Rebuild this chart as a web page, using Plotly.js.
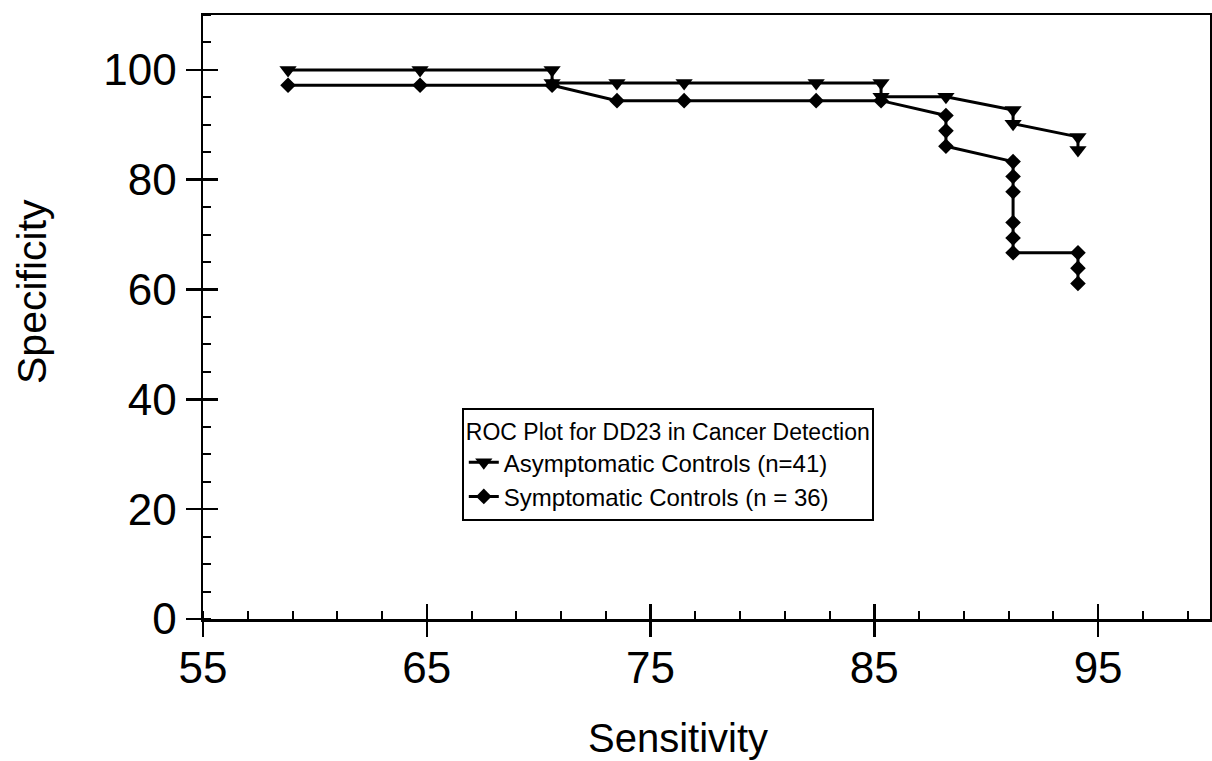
<!DOCTYPE html>
<html>
<head>
<meta charset="utf-8">
<script src="https://cdn.plot.ly/plotly-3.0.1.min.js"></script>
<style>html,body{margin:0;padding:0;background:#fff;}#chart{width:1212px;height:761px;}</style>
</head>
<body>
<div id="chart"></div>
<script>
// Data
const asymSens = [58.8, 64.7, 70.6, 70.6, 73.5, 76.5, 82.4, 85.3, 85.3, 88.2, 91.2, 91.2, 94.1, 94.1];
const asymSpec = [100, 100, 100, 97.6, 97.6, 97.6, 97.6, 97.6, 95.1, 95.1, 92.7, 90.2, 87.8, 85.4];
const symSens = [58.8, 64.7, 70.6, 73.5, 76.5, 82.4, 85.3, 88.2, 88.2, 88.2, 91.2, 91.2, 91.2, 91.2, 91.2, 91.2, 94.1, 94.1, 94.1];
const symSpec = [97.2, 97.2, 97.2, 94.4, 94.4, 94.4, 94.4, 91.7, 88.9, 86.1, 83.3, 80.6, 77.8, 72.2, 69.4, 66.7, 66.7, 63.9, 61.1];
const seriesNames = ["Asymptomatic Controls (n=41)", "Symptomatic Controls (n = 36)"];
const legendTitle = "ROC Plot for DD23 in Cancer Detection";
const xTitle = "Sensitivity";
const yTitle = "Specificity";

const FONT = "Liberation Sans, Arial, sans-serif";

const traces = [
  {
    x: asymSens, y: asymSpec, name: seriesNames[0], type: "scatter", mode: "lines+markers",
    line: {color: "#000", width: 3},
    marker: {symbol: "triangle-down", size: 15, color: "#000"}
  },
  {
    x: symSens, y: symSpec, name: seriesNames[1], type: "scatter", mode: "lines+markers",
    line: {color: "#000", width: 3},
    marker: {symbol: "diamond", size: 12, color: "#000"}
  },
  {
    x: [55], y: [0], xaxis: "x2", yaxis: "y2", type: "scatter", mode: "markers",
    marker: {opacity: 0}, showlegend: false, hoverinfo: "skip"
  }
];

const layout = {
  width: 1212, height: 761,
  margin: {l: 203, r: 2, t: 15, b: 142},
  paper_bgcolor: "#fff", plot_bgcolor: "#fff",
  font: {family: FONT, color: "#000"},
  showlegend: true,
  xaxis: {
    range: [55, 100], tick0: 55, dtick: 10, tickmode: "linear",
    ticks: "outside", ticklen: 15, tickwidth: 2.5, tickcolor: "#000",
    minor: {ticks: "inside", ticklen: 8, tickwidth: 2, tickcolor: "#000", tick0: 55, dtick: 2},
    showline: true, linewidth: 2.5, linecolor: "#000", mirror: true,
    showgrid: false, zeroline: false, ticklabelstandoff: -6,
    tickfont: {size: 44, family: FONT, color: "#000"}
  },
  yaxis: {
    range: [0, 110], tick0: 0, dtick: 20, tickmode: "linear",
    ticks: "outside", ticklen: 15, tickwidth: 2.5, tickcolor: "#000",
    minor: {ticks: "inside", ticklen: 8, tickwidth: 2, tickcolor: "#000", tick0: 0, dtick: 5},
    showline: true, linewidth: 2.5, linecolor: "#000", mirror: true,
    showgrid: false, zeroline: false,
    tickfont: {size: 44, family: FONT, color: "#000"}
  },
  xaxis2: {
    overlaying: "x", side: "bottom", range: [55, 100], tick0: 55, dtick: 10, tickmode: "linear",
    ticks: "inside", ticklen: 15, tickwidth: 2.5, tickcolor: "#000",
    showticklabels: false, showline: false, showgrid: false, zeroline: false
  },
  yaxis2: {
    overlaying: "y", side: "left", range: [0, 110], tick0: 0, dtick: 20, tickmode: "linear",
    ticks: "inside", ticklen: 15, tickwidth: 2.5, tickcolor: "#000",
    showticklabels: false, showline: false, showgrid: false, zeroline: false
  },
  legend: {
    x: 0.257, y: 0.349, xanchor: "left", yanchor: "top",
    bgcolor: "#fff", bordercolor: "#000", borderwidth: 2,
    font: {size: 24, family: FONT, color: "#000"},
    title: {text: legendTitle, side: "top", font: {size: 23, family: FONT, color: "#000"}},
    itemwidth: 30, tracegroupgap: 0
  },
  annotations: [
    {text: xTitle, xref: "paper", yref: "paper", x: (678 - 203) / 1007, y: -(738 - 619) / 604,
     xanchor: "center", yanchor: "middle", showarrow: false, font: {size: 40, family: FONT, color: "#000"}},
    {text: yTitle, xref: "paper", yref: "paper", x: -(203 - 32) / 1007, y: (619 - 292) / 604,
     xanchor: "center", yanchor: "middle", textangle: -90, showarrow: false, font: {size: 41, family: FONT, color: "#000"}}
  ]
};

Plotly.newPlot("chart", traces, layout, {displayModeBar: false, staticPlot: true});
</script>
</body>
</html>
